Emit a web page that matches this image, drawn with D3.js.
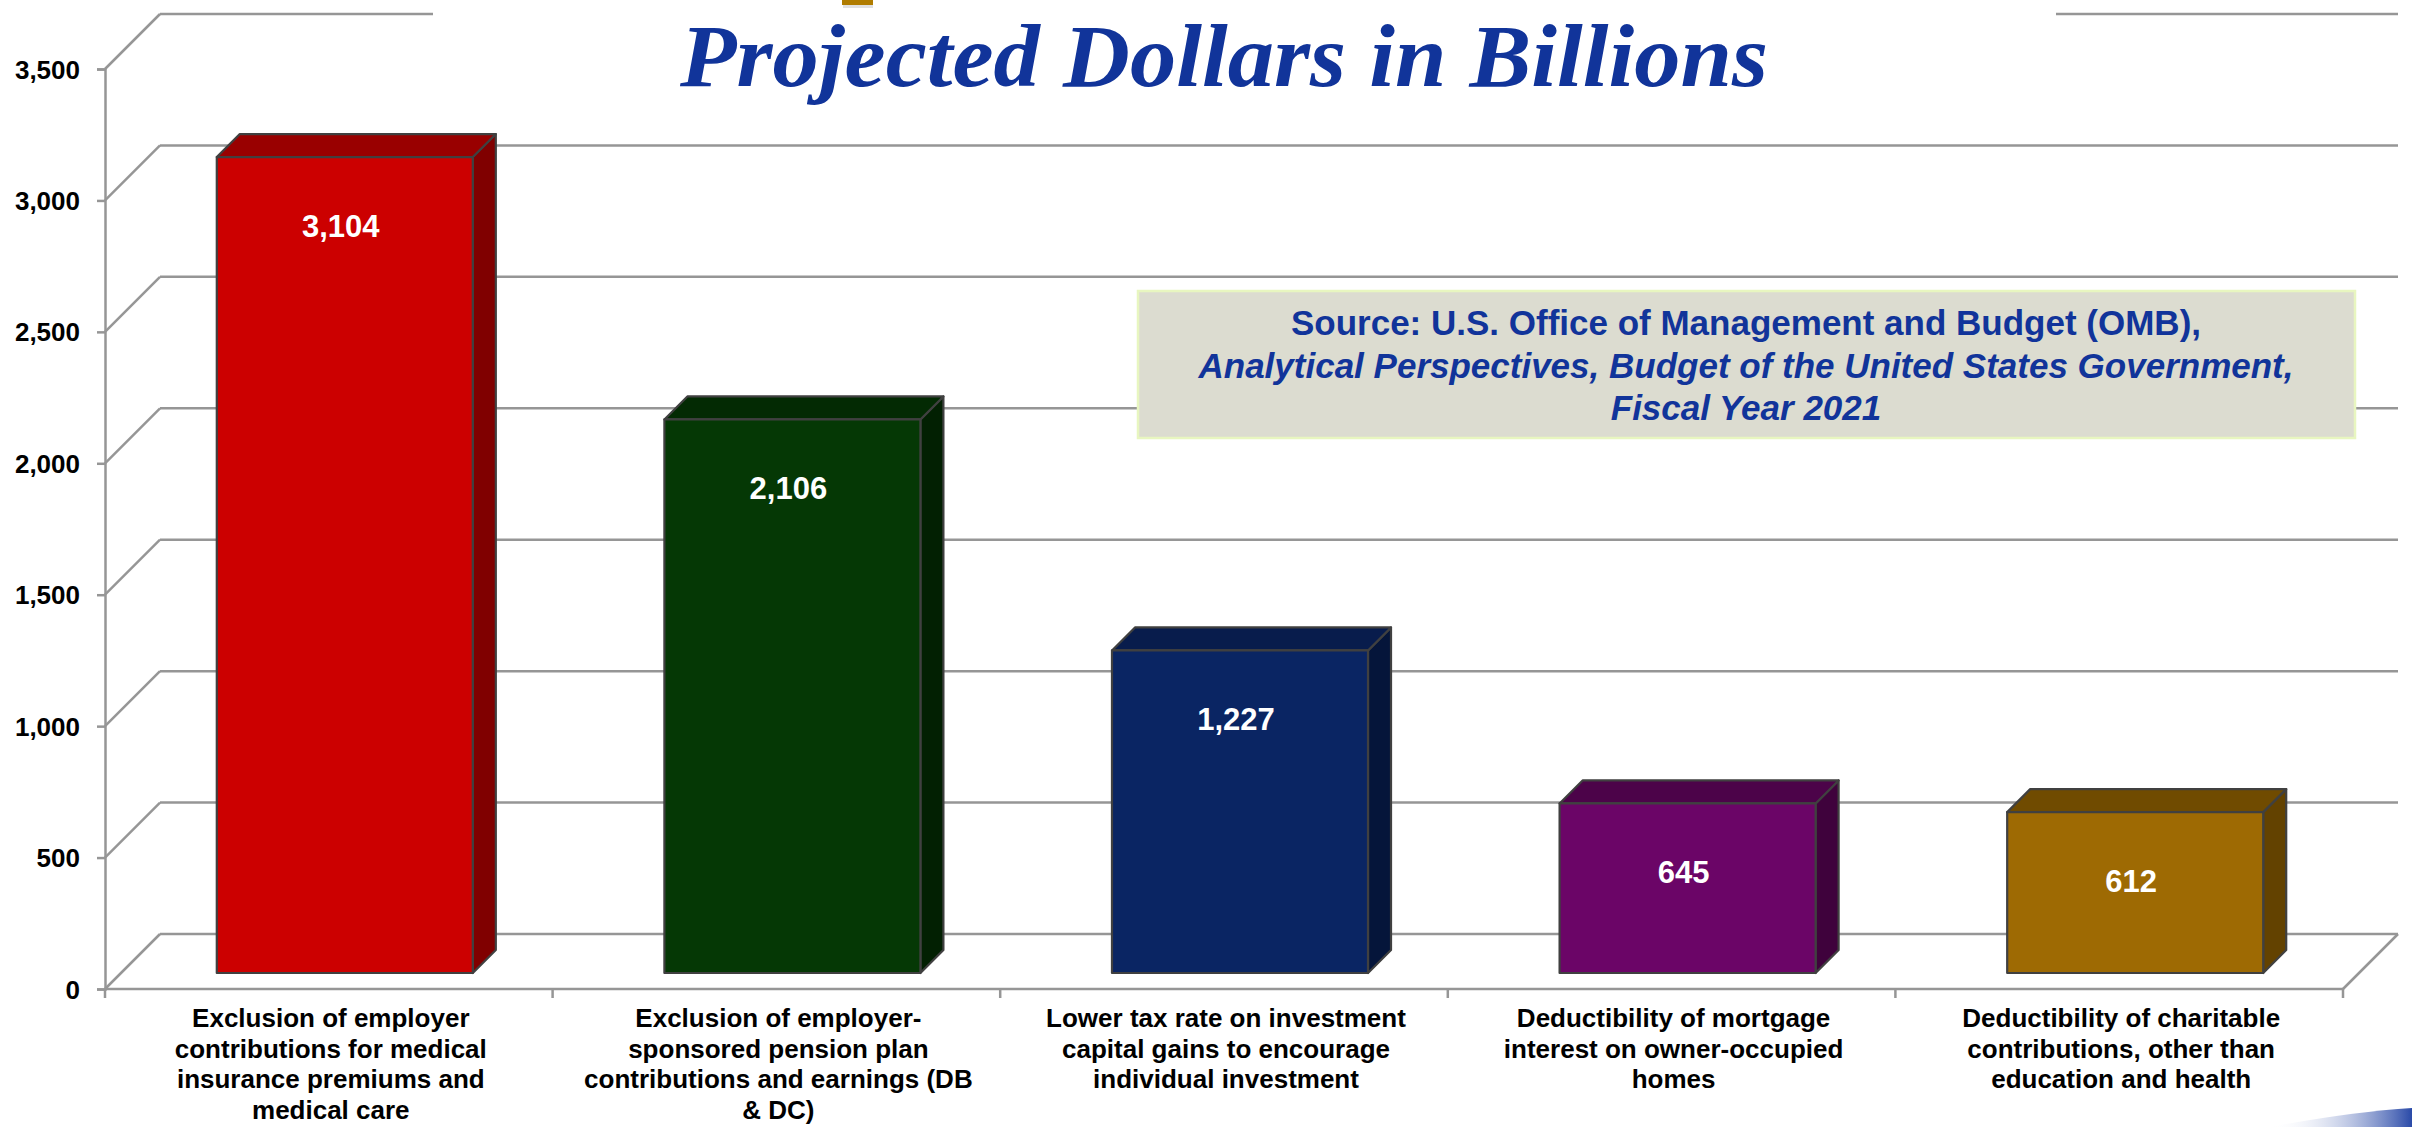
<!DOCTYPE html>
<html>
<head>
<meta charset="utf-8">
<script src="https://cdn.jsdelivr.net/npm/d3@7"></script>
<style>
  html, body { margin: 0; padding: 0; background: #ffffff; }
  svg { display: block; }
</style>
</head>
<body>
<svg id="chart" width="2412" height="1127"></svg>
<script>
// ---------- DATA ----------
const categories = [
  "Exclusion of employer contributions for medical insurance premiums and medical care",
  "Exclusion of employer-sponsored pension plan contributions and earnings (DB & DC)",
  "Lower tax rate on investment capital gains to encourage individual investment",
  "Deductibility of mortgage interest on owner-occupied homes",
  "Deductibility of charitable contributions, other than education and health"
];
const categoryLines = [
  ["Exclusion of employer", "contributions for medical", "insurance premiums and", "medical care"],
  ["Exclusion of employer-", "sponsored pension plan", "contributions and earnings (DB", "& DC)"],
  ["Lower tax rate on investment", "capital gains to encourage", "individual investment"],
  ["Deductibility of mortgage", "interest on owner-occupied", "homes"],
  ["Deductibility of charitable", "contributions, other than", "education and health"]
];
const values = [3104, 2106, 1227, 645, 612];
const yTicks = [0, 500, 1000, 1500, 2000, 2500, 3000, 3500];
const titleText = "Projected Dollars in Billions";
const sourceLines = [
  "Source: U.S. Office of Management and Budget (OMB),",
  "Analytical Perspectives, Budget of the United States Government,",
  "Fiscal Year 2021"
];

// ---------- STYLE ----------
const frontColors = ["#cc0000", "#053805", "#0a2563", "#6b0567", "#9e6a03"];
const topColors   = ["#990000", "#032a03", "#081c4c", "#4c0349", "#704b00"];
const sideColors  = ["#800000", "#022002", "#05153a", "#3f023c", "#634200"];
const gridColor = "#969696";
const sans = "'Liberation Sans', Arial, Helvetica, sans-serif";
const blue = "#11349a";

(function () {
// ---------- LAYOUT ----------
const svg = d3.select("#chart");
const pLeft = 105, pRight = 2343, pBottom = 989, pTop = 69;
const depth = 55;          // wall depth offset
const barFront = 16;       // bar front plane depth
const barDepth = 23;       // bar thickness

const x = d3.scaleBand().domain(categories).range([pLeft, pRight])
  .paddingInner(0.428).paddingOuter(0.214);
const y = d3.scaleLinear().domain([0, 3500]).range([pBottom, pTop]);
const step = x.step();
const bw = x.bandwidth();

const grid = svg.append("g");

// back wall gridlines and side wall diagonals
yTicks.forEach(v => {
  grid.append("line")
    .attr("x1", pLeft + depth).attr("x2", pRight + depth)
    .attr("y1", y(v) - depth).attr("y2", y(v) - depth)
    .attr("stroke", gridColor).attr("stroke-width", 2.5);
  grid.append("line")
    .attr("x1", pLeft).attr("y1", y(v))
    .attr("x2", pLeft + depth).attr("y2", y(v) - depth)
    .attr("stroke", gridColor).attr("stroke-width", 2.5);
});

// floor right diagonal
grid.append("line")
  .attr("x1", pRight).attr("y1", y(0))
  .attr("x2", pRight + depth).attr("y2", y(0) - depth)
  .attr("stroke", gridColor).attr("stroke-width", 2.5);

// white title backdrop hiding the top gridline
svg.append("rect").attr("x", 433).attr("y", 0).attr("width", 1623).attr("height", 110)
  .attr("fill", "#ffffff");

// y axis (front)
const yAxis = svg.append("g").attr("transform", `translate(${pLeft},0)`)
  .call(d3.axisLeft(y).tickValues(yTicks).tickSize(8).tickPadding(17)
    .tickFormat(d3.format(",")));
yAxis.select(".domain").attr("stroke", gridColor).attr("stroke-width", 2.5);
yAxis.selectAll(".tick line").attr("stroke", gridColor).attr("stroke-width", 2.5);
yAxis.selectAll(".tick text")
  .attr("font-family", sans).attr("font-weight", "bold").attr("font-size", 26)
  .attr("fill", "#000").attr("dy", "0.35em");

// x axis (front floor)
const boundaries = categories.map(c => x(c) - step * 0.214).concat([pRight]);
svg.append("line").attr("x1", pLeft).attr("x2", pRight)
  .attr("y1", pBottom).attr("y2", pBottom)
  .attr("stroke", gridColor).attr("stroke-width", 2.5);
svg.selectAll(".xtick").data(boundaries).enter().append("line")
  .attr("x1", d => d).attr("x2", d => d)
  .attr("y1", pBottom).attr("y2", pBottom + 9)
  .attr("stroke", gridColor).attr("stroke-width", 2.5);

// bars
const bars = svg.append("g");
categories.forEach((c, i) => {
  const x0 = x(c) + barFront;
  const x1 = x0 + bw;
  const yb = y(0) - barFront;
  const yt = y(values[i]) - barFront;
  const d = barDepth;
  const g = bars.append("g")
    .attr("stroke", "#404040").attr("stroke-width", 2.2).attr("stroke-linejoin", "round");
  g.append("polygon")
    .attr("points", [[x1, yt], [x1 + d, yt - d], [x1 + d, yb - d], [x1, yb]].join(" "))
    .attr("fill", sideColors[i]);
  g.append("polygon")
    .attr("points", [[x0, yt], [x0 + d, yt - d], [x1 + d, yt - d], [x1, yt]].join(" "))
    .attr("fill", topColors[i]);
  g.append("rect")
    .attr("x", x0).attr("y", yt).attr("width", bw).attr("height", yb - yt)
    .attr("fill", frontColors[i]);
  bars.append("text")
    .attr("x", x0 + bw / 2 - 4).attr("y", yt + 80)
    .attr("text-anchor", "middle")
    .attr("font-family", sans).attr("font-weight", "bold").attr("font-size", 31)
    .attr("fill", "#ffffff")
    .text(d3.format(",")(values[i]));
});

// category labels
categories.forEach((c, i) => {
  const t = svg.append("text")
    .attr("text-anchor", "middle")
    .attr("font-family", sans).attr("font-weight", "bold").attr("font-size", 26)
    .attr("fill", "#000");
  categoryLines[i].forEach((line, j) => {
    t.append("tspan")
      .attr("x", x(c) + bw / 2 + 2)
      .attr("y", 1027 + j * 30.5)
      .text(line);
  });
});

// title
svg.append("rect").attr("x", 842).attr("y", 0).attr("width", 31).attr("height", 5)
  .attr("fill", "#b07c00");
svg.append("rect").attr("x", 843).attr("y", 5).attr("width", 30).attr("height", 3)
  .attr("fill", "#cccccc").attr("opacity", 0.6);
svg.append("text")
  .attr("x", 680).attr("y", 86)
  .attr("textLength", 1088).attr("lengthAdjust", "spacingAndGlyphs")
  .attr("font-family", "'Liberation Serif', 'DejaVu Serif', serif")
  .attr("font-style", "italic").attr("font-weight", "bold").attr("font-size", 88)
  .attr("fill", blue)
  .text(titleText);

// source box
svg.append("rect").attr("x", 1138).attr("y", 291).attr("width", 1217).attr("height", 147)
  .attr("fill", "#dcdcd0").attr("stroke", "#e8f6c0").attr("stroke-width", 2.5);
sourceLines.forEach((line, j) => {
  svg.append("text")
    .attr("x", 1746).attr("y", 335 + j * 42.5)
    .attr("text-anchor", "middle")
    .attr("font-family", sans).attr("font-weight", "bold").attr("font-size", 35)
    .attr("font-style", j === 0 ? "normal" : "italic")
    .attr("fill", blue)
    .text(line);
});

// bottom-right decorative swoosh
const defs = svg.append("defs");
const grad = defs.append("linearGradient").attr("id", "sw").attr("x1", "0").attr("x2", "1");
grad.append("stop").attr("offset", "0").attr("stop-color", "#ffffff").attr("stop-opacity", 0);
grad.append("stop").attr("offset", "1").attr("stop-color", "#2a4aa8");
svg.append("path")
  .attr("d", "M2270,1127 Q2350,1112 2412,1108 L2412,1127 Z")
  .attr("fill", "url(#sw)");
})();
</script>
</body>
</html>
